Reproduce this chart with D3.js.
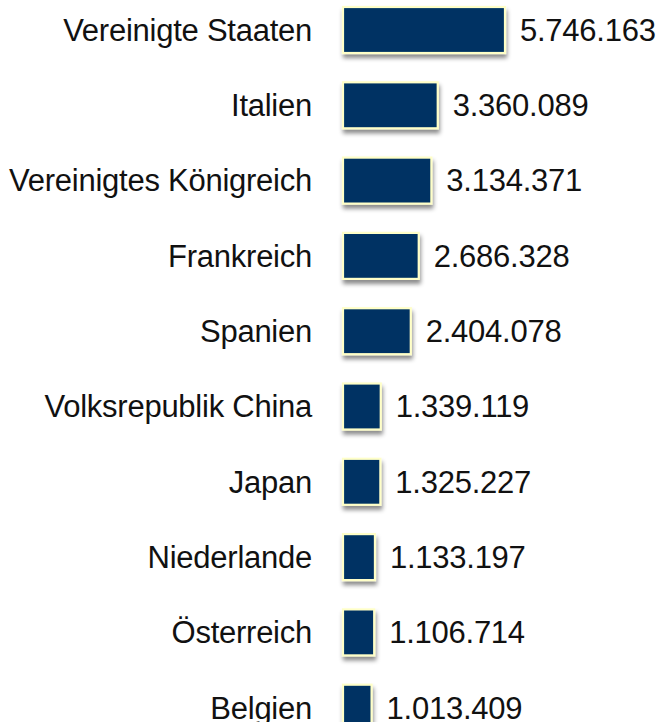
<!DOCTYPE html>
<html><head><meta charset="utf-8">
<script src="https://cdn.jsdelivr.net/npm/d3@7"></script>
<style>body{margin:0;background:#fff}svg{display:block}</style>
</head><body>
<svg id="c" width="661" height="722"></svg>
<script>
const countries = ["Vereinigte Staaten","Italien","Vereinigtes Königreich","Frankreich","Spanien","Volksrepublik China","Japan","Niederlande","Österreich","Belgien"];
const values = [5746163,3360089,3134371,2686328,2404078,1339119,1325227,1133197,1106714,1013409];

const svg = d3.select("#c");
const defs = svg.append("defs");
const f = defs.append("filter").attr("id","sh").attr("x","-20%").attr("y","-20%").attr("width","150%").attr("height","160%");
f.append("feDropShadow").attr("dx",1).attr("dy",4).attr("stdDeviation",2).attr("flood-color","#000").attr("flood-opacity",0.45);

const x = d3.scaleLinear().domain([0,5746163]).range([343,505]);
// step 75.3, bar 46 tall, first bar top at 7
const y = d3.scaleBand().domain(countries).range([7, 7 + 9*75.3 + 46]).paddingInner(29.3/75.3).paddingOuter(0);
const fmt = d3.formatLocale({decimal:",",thousands:".",grouping:[3],currency:["","€"]}).format(",d");

const g = svg.selectAll("g.row").data(countries).join("g").attr("class","row");
g.append("rect")
  .attr("x",x(0)).attr("y",d=>y(d))
  .attr("width",(d,i)=>x(values[i])-x(0)).attr("height",y.bandwidth())
  .attr("fill","#003263").attr("stroke","#ffffc8").attr("stroke-width",2.2)
  .attr("filter","url(#sh)");
g.append("text")
  .attr("x",312).attr("y",d=>y(d)+y.bandwidth()/2).attr("dy","0.35em")
  .attr("text-anchor","end").attr("font-family","Liberation Sans, Arial, sans-serif")
  .attr("font-size",31).attr("fill","#111").attr("letter-spacing",-0.25).text(d=>d);
g.append("text")
  .attr("x",(d,i)=>x(values[i])+15).attr("y",d=>y(d)+y.bandwidth()/2).attr("dy","0.35em")
  .attr("font-family","Liberation Sans, Arial, sans-serif")
  .attr("font-size",31).attr("fill","#111").attr("letter-spacing",-0.25).text((d,i)=>fmt(values[i]));
</script>
</body></html>
